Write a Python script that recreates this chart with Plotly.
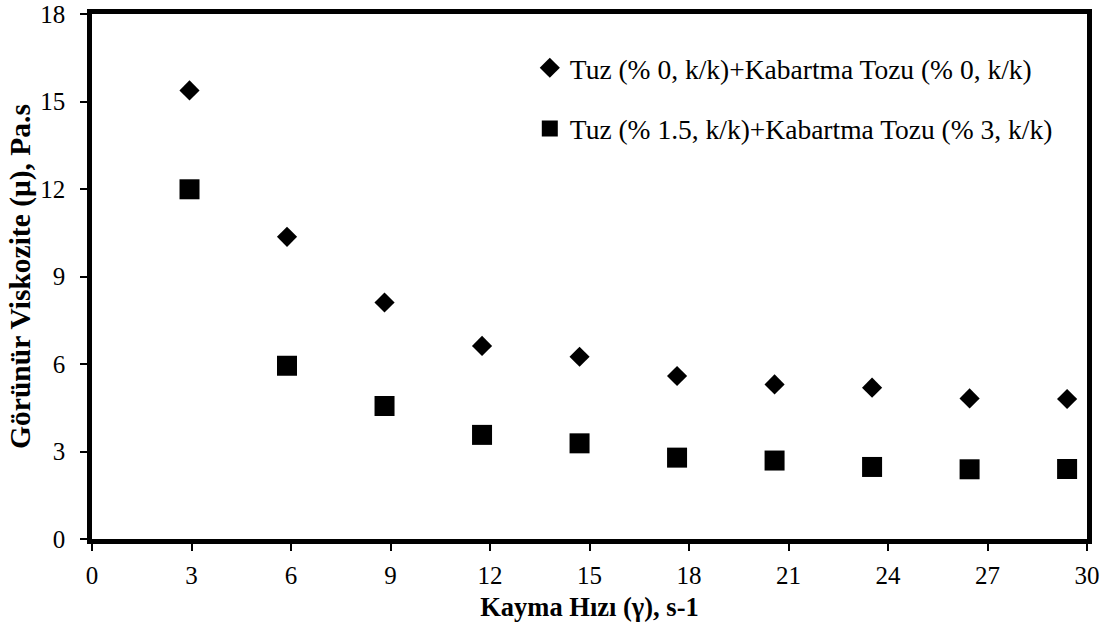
import plotly.graph_objects as go

# Shear rate (s-1) and apparent viscosity (Pa.s)
shear_rate = [2.94, 5.88, 8.82, 11.76, 14.70, 17.64, 20.58, 23.52, 26.46, 29.40]
visc_control = [15.38, 10.36, 8.11, 6.62, 6.25, 5.59, 5.30, 5.19, 4.82, 4.80]
visc_salt_bp = [11.99, 5.94, 4.56, 3.57, 3.28, 2.79, 2.69, 2.47, 2.39, 2.40]

name_control = "Tuz (% 0, k/k)+Kabartma Tozu (% 0, k/k)"
name_salt_bp = "Tuz (% 1.5, k/k)+Kabartma Tozu (% 3, k/k)"

x_ticks = [0, 3, 6, 9, 12, 15, 18, 21, 24, 27, 30]
y_ticks = [0, 3, 6, 9, 12, 15, 18]

SERIF = "Liberation Serif, Times New Roman, serif"

fig = go.Figure()
fig.add_trace(go.Scatter(
    x=shear_rate, y=visc_control, mode="markers", name=name_control,
    legendgroup="a",
    marker=dict(symbol="diamond", size=15.5, color="black", line=dict(width=0)),
))
fig.add_trace(go.Scatter(
    x=shear_rate, y=visc_salt_bp, mode="markers", name=name_salt_bp,
    legendgroup="b",
    marker=dict(symbol="square", size=20, color="black", line=dict(width=0)),
))

axis_common = dict(
    showline=True, linecolor="black", linewidth=4.5, mirror=True,
    ticks="outside", ticklen=7, tickwidth=2, tickcolor="black",
    showgrid=False, zeroline=False, automargin=False,
    tickfont=dict(family=SERIF, size=25, color="black"),
)

fig.update_layout(
    width=1116, height=632,
    margin=dict(l=92, r=29, t=14, b=93),
    paper_bgcolor="white", plot_bgcolor="white",
    showlegend=True,
    legend=dict(
        x=0.44, y=0.944, xanchor="left", yanchor="top",
        font=dict(family=SERIF, size=27.5, color="black"),
        bgcolor="rgba(0,0,0,0)", tracegroupgap=22,
    ),
    xaxis=dict(
        range=[0, 30], tickvals=x_ticks, ticklabelstandoff=3,
        title=dict(text="<b>Kayma Hızı (γ), s-1</b>", standoff=11,
                   font=dict(family=SERIF, size=26.5, color="black")),
        **axis_common,
    ),
    yaxis=dict(
        range=[0, 18], tickvals=y_ticks, ticklabelstandoff=10,
        title=dict(text="<b>Görünür Viskozite (μ), Pa.s</b>", standoff=2,
                   font=dict(family=SERIF, size=29.5, color="black")),
        **axis_common,
    ),
)

fig.write_html("out.html")
